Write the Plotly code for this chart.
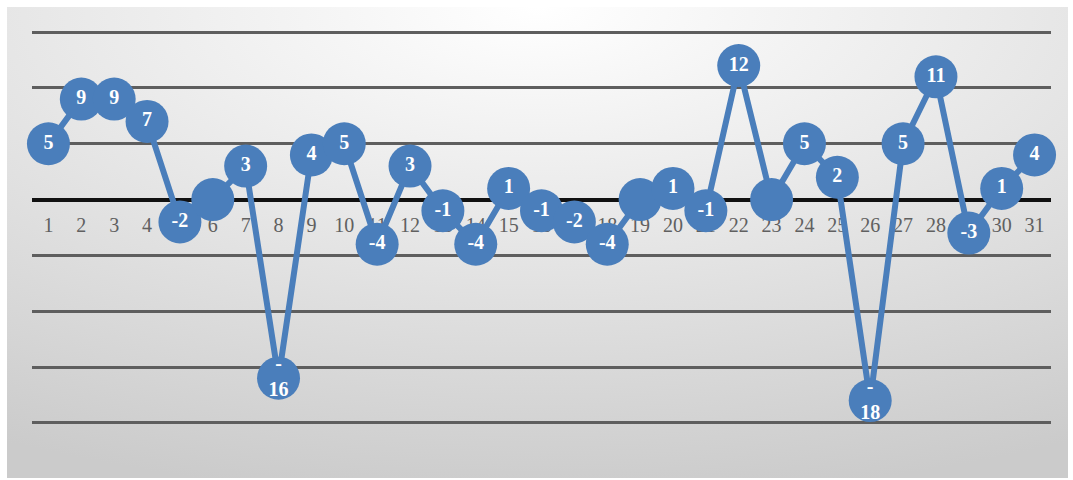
import base64
import plotly.graph_objects as go

days = list(range(1, 32))
values = [5, 9, 9, 7, -2, 0, 3, -16, 4, 5, -4, 3, -1, -4, 1, -1, -2, -4, 0, 1, -1, 12, 0, 5, 2, -18, 5, 11, -3, 1, 4]
tick_labels = [str(d) for d in days]


def fmt(v):
    if v == 0:
        return ""
    if v <= -10:
        return "-<br>" + str(abs(v))
    return str(v)


labels = [fmt(v) for v in values]

BLUE = "#4A7EBB"

svg = (
    "<svg xmlns='http://www.w3.org/2000/svg' width='1061' height='471' preserveAspectRatio='none'>"
    "<defs><radialGradient id='g' cx='50%' cy='0%' r='105%'>"
    "<stop offset='0%' stop-color='#ffffff'/>"
    "<stop offset='100%' stop-color='#cbcbcb'/>"
    "</radialGradient></defs>"
    "<rect width='1061' height='471' fill='url(#g)'/></svg>"
)
bg_src = "data:image/svg+xml;base64," + base64.b64encode(svg.encode()).decode()

fig = go.Figure()
fig.add_trace(go.Scatter(
    x=days, y=values, mode="lines+markers+text",
    line=dict(color=BLUE, width=6),
    marker=dict(size=43, color=BLUE, line=dict(width=0)),
    text=labels, textposition="middle center",
    textfont=dict(color="white", size=20, family="Liberation Serif"),
    texttemplate="<b>%{text}</b>",
    hoverinfo="skip", cliponaxis=False,
))

YMIN, YMAX = -20.1, 15.1
# plot area pixels: x 32..1051, y ~31..424
pw, ph = 1019, 393
fig.update_layout(
    width=1073, height=480,
    margin=dict(l=32, r=22, t=31, b=56),
    paper_bgcolor="white", plot_bgcolor="rgba(0,0,0,0)",
    showlegend=False,
    images=[dict(
        source=bg_src, xref="paper", yref="paper",
        x=(7 - 32) / pw, y=(424 - 7) / ph,
        sizex=(1068 - 7) / pw, sizey=(478 - 7) / ph,
        xanchor="left", yanchor="top", sizing="stretch", layer="below",
    )],
    xaxis=dict(
        range=[0.5, 31.5], tickmode="array", tickvals=days, ticktext=tick_labels,
        showgrid=False, zeroline=False, showline=False, ticks="",
        anchor="free", position=(0 - YMIN) / (YMAX - YMIN), layer="below traces",
        tickfont=dict(family="Liberation Serif", size=20, color="#606060"),
        ticklabelstandoff=11,
    ),
    yaxis=dict(
        range=[YMIN, YMAX], tickmode="array", tickvals=[-20, -15, -10, -5, 0, 5, 10, 15],
        showticklabels=False,
        showgrid=True, gridcolor="#5e5e5e", gridwidth=2.5,
        zeroline=True, zerolinecolor="#111111", zerolinewidth=3.5,
        showline=False, ticks="",
    ),
)

fig.write_html("out.html")
